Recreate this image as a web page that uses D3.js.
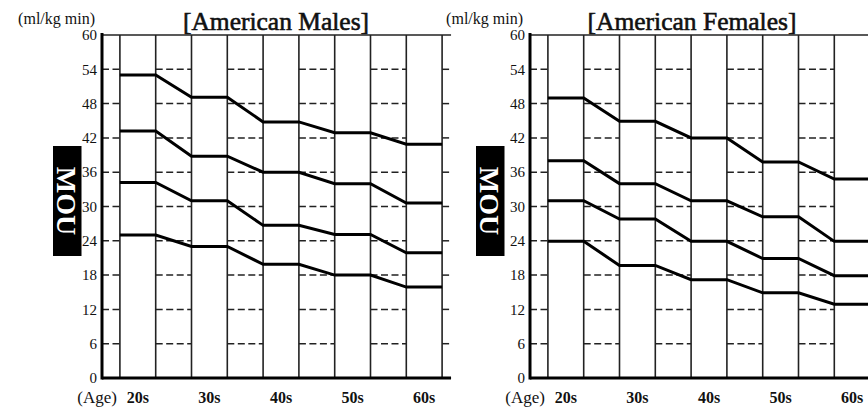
<!DOCTYPE html>
<meta charset="utf-8">
<style>
    body {
        margin: 0;
        background-color: #fff;
    }

    text {
        font-family: "Liberation Serif", "DejaVu Serif", serif;
        fill: #111;
    }

    .title {
        stroke: #111;
        stroke-width: 0.6px;
    }

    .grid-v {
        stroke: #222;
        stroke-width: 1.6px;
    }

    .grid-h {
        stroke: #222;
        stroke-width: 1.5px;
        stroke-dasharray: 7, 3.5;
    }

    .frame-top {
        stroke: #222;
        stroke-width: 1.5px;
    }

    .axis-line {
        stroke: #000;
        stroke-width: 3px;
    }

    .line {
        fill: none;
        stroke: #000;
        stroke-width: 3px;
        stroke-linejoin: miter;
    }
</style>

<body>
    <svg width="868" height="408"></svg>
</body>
<script src="https://d3js.org/d3.v7.min.js"></script>
<script>
    // data
    var ages = ["20s", "30s", "40s", "50s", "60s"];
    var yTicks = [0, 6, 12, 18, 24, 30, 36, 42, 48, 54, 60];

    var maleTop = [53, 49.1, 44.8, 42.9, 40.9];
    var maleHigh = [43.2, 38.8, 36, 34, 30.6];
    var maleMid = [34.2, 31, 26.7, 25.1, 21.9];
    var maleLow = [25, 23, 19.9, 18, 15.9];

    var femaleTop = [49, 44.9, 42, 37.8, 34.8];
    var femaleHigh = [38, 34, 31, 28.2, 23.9];
    var femaleMid = [31, 27.8, 23.9, 20.9, 17.9];
    var femaleLow = [23.9, 19.7, 17.2, 14.9, 12.9];

    var svg = d3.select("svg");

    var plotTop = 35,
        plotBottom = 378,
        colW = 35.8,
        nCols = 9.75;

    var panels = [
        { title: "[American Males]", axisX: 102, titleX: 276, boxX: -49, series: [maleTop, maleHigh, maleMid, maleLow] },
        { title: "[American Females]", axisX: 530, titleX: 692, boxX: -54, series: [femaleTop, femaleHigh, femaleMid, femaleLow] }
    ];

    panels.forEach(function(p) {
        var x = d3.scaleLinear().domain([0, nCols]).range([p.axisX, p.axisX + nCols * colW]);
        var y = d3.scaleLinear().domain([0, 60]).range([plotBottom, plotTop]);

        var g = svg.append("g");

        // dashed gridlines only in the in-between columns
        var dashCols = [[0, 0.5]];
        for (var c = 1.5; c < nCols; c += 2) dashCols.push([c, Math.min(c + 1, nCols)]);

        yTicks.filter(function(t) { return t > 0 && t < 60; }).forEach(function(t) {
            dashCols.forEach(function(dc) {
                g.append("line")
                    .attr("class", "grid-h")
                    .attr("x1", x(dc[0]))
                    .attr("x2", x(dc[1]))
                    .attr("y1", y(t))
                    .attr("y2", y(t));
            });
        });

        // column dividers
        d3.range(0.5, 10, 1).forEach(function(c) {
            g.append("line")
                .attr("class", "grid-v")
                .attr("x1", x(c))
                .attr("x2", x(c))
                .attr("y1", y(60))
                .attr("y2", y(0));
        });

        g.append("line")
            .attr("class", "frame-top")
            .attr("x1", x(0))
            .attr("x2", x(nCols))
            .attr("y1", y(60))
            .attr("y2", y(60));

        // series: flat across each age column, sloping in between
        var line = d3.line()
            .x(function(d) { return x(d.c); })
            .y(function(d) { return y(d.v); });

        p.series.forEach(function(s) {
            var pts = [];
            s.forEach(function(v, i) {
                pts.push({ c: 0.5 + 2 * i, v: v });
                pts.push({ c: 1.5 + 2 * i, v: v });
            });
            g.append("path")
                .datum(pts)
                .attr("class", "line")
                .attr("d", line);
        });

        // axes
        g.append("line")
            .attr("class", "axis-line")
            .attr("x1", x(0))
            .attr("x2", x(0))
            .attr("y1", y(60) - 2)
            .attr("y2", y(0) + 1.5);

        g.append("line")
            .attr("class", "axis-line")
            .attr("x1", x(0))
            .attr("x2", x(nCols))
            .attr("y1", y(0))
            .attr("y2", y(0));

        g.selectAll(".ytick")
            .data(yTicks)
            .enter().append("text")
            .attr("class", "ytick")
            .attr("x", x(0) - 5)
            .attr("y", function(d) { return y(d); })
            .attr("dy", "0.35em")
            .attr("text-anchor", "end")
            .style("font-size", "15px")
            .text(function(d) { return d; });

        g.selectAll(".age")
            .data(ages)
            .enter().append("text")
            .attr("class", "age")
            .attr("x", function(d, i) { return x(1 + 2 * i); })
            .attr("y", 403)
            .attr("text-anchor", "middle")
            .style("font-size", "16px")
            .style("font-weight", "bold")
            .text(function(d) { return d; });

        g.append("text")
            .attr("x", x(0) + 15)
            .attr("y", 403)
            .attr("text-anchor", "end")
            .style("font-size", "17px")
            .text("(Age)");

        g.append("text")
            .attr("x", x(0) - 7)
            .attr("y", 24)
            .attr("text-anchor", "end")
            .style("font-size", "16px")
            .text("(ml/kg min)");

        g.append("text")
            .attr("class", "title")
            .attr("x", p.titleX)
            .attr("y", 30)
            .attr("text-anchor", "middle")
            .style("font-size", "25.5px")
            .text(p.title);

        // MOU badge
        var bx = x(0) + p.boxX;
        g.append("rect")
            .attr("x", bx)
            .attr("y", 146)
            .attr("width", 28.5)
            .attr("height", 110)
            .attr("fill", "#000");

        g.append("text")
            .attr("transform", "translate(" + (bx + 14.25) + ",201) rotate(90)")
            .attr("text-anchor", "middle")
            .attr("dy", "0.35em")
            .style("font-size", "28px")
            .style("font-weight", "bold")
            .style("fill", "#fff")
            .text("MOU");
    });
</script>
